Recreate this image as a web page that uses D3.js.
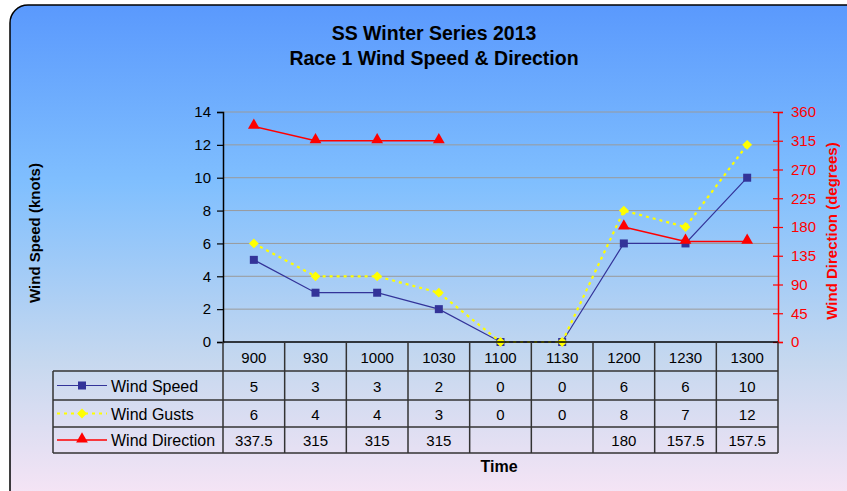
<!DOCTYPE html>
<html><head><meta charset="utf-8">
<script src="https://cdn.jsdelivr.net/npm/d3@7"></script>
<style>html,body{margin:0;padding:0;background:#fff;overflow:hidden}svg{display:block}text{font-family:"Liberation Sans",Arial,sans-serif}</style>
</head><body>
<svg id="c" width="847" height="491"></svg>
<script>
const categories = ["900","930","1000","1030","1100","1130","1200","1230","1300"];
const windSpeed = [5,3,3,2,0,0,6,6,10];
const windGusts = [6,4,4,3,0,0,8,7,12];
const windDirection = [337.5,315,315,315,null,null,180,157.5,157.5];
const leftTicks = [0,2,4,6,8,10,12,14];
const rightTicks = [0,45,90,135,180,225,270,315,360];
const titleLines = ["SS Winter Series 2013","Race 1 Wind Speed & Direction"];

const svg = d3.select("#c");
const defs = svg.append("defs");
const g = defs.append("linearGradient").attr("id","bg").attr("x1",0).attr("y1",0).attr("x2",0).attr("y2",1);
g.append("stop").attr("offset","0%").attr("stop-color","#5a99fd");
g.append("stop").attr("offset","35%").attr("stop-color","#80bffe");
g.append("stop").attr("offset","70%").attr("stop-color","#c6d8ef");
g.append("stop").attr("offset","100%").attr("stop-color","#fde6f6");

svg.append("rect").attr("x",10).attr("y",5).attr("width",880).attr("height",510).attr("rx",18).attr("ry",18)
  .attr("fill","url(#bg)").attr("stroke","#000").attr("stroke-width",1.5);

// titles
svg.selectAll("text.title").data(titleLines).join("text").attr("class","title")
  .attr("x",434).attr("y",(d,i)=>40+i*25).attr("text-anchor","middle")
  .attr("font-size",19.5).attr("font-weight","bold").attr("fill","#000").text(d=>d);

const L=223, R=778, T=112, B=342;
const x = d3.scaleBand().domain(categories).range([L,R]);
const y = d3.scaleLinear().domain([0,14]).range([B,T]);
const y2 = d3.scaleLinear().domain([0,360]).range([B,T]);
const cx = d=>x(d)+x.bandwidth()/2;

// gridlines
svg.append("g").selectAll("line").data(leftTicks.filter(t=>t>0)).join("line")
  .attr("x1",L).attr("x2",R).attr("y1",d=>y(d)).attr("y2",d=>y(d))
  .attr("stroke","#9a9a9a").attr("stroke-width",1);

// left axis
const la = svg.append("g").attr("transform",`translate(${L},0)`)
  .call(d3.axisLeft(y).tickValues(leftTicks).tickSize(6).tickPadding(6).tickFormat(d3.format("d")));
la.select(".domain").attr("stroke","#000").attr("stroke-width",1.5);
la.selectAll(".tick line").attr("stroke","#000").attr("stroke-width",1.2);
la.selectAll(".tick text").attr("font-size",15).attr("fill","#000").attr("font-family","Liberation Sans, Arial, sans-serif");

// right axis
const ra = svg.append("g").attr("transform",`translate(${R},0)`)
  .call(d3.axisRight(y2).tickValues(rightTicks).tickSize(5).tickPadding(8));
ra.select(".domain").attr("stroke","#ff0000").attr("stroke-width",1.5);
ra.selectAll(".tick line").attr("stroke","#ff0000").attr("x1",-5).attr("stroke-width",1.2);
ra.selectAll(".tick text").attr("font-size",15).attr("fill","#ff0000").attr("font-family","Liberation Sans, Arial, sans-serif");

// axis titles
svg.append("text").attr("transform","translate(40,233) rotate(-90)").attr("text-anchor","middle")
  .attr("font-size",15).attr("font-weight","bold").attr("fill","#000").text("Wind Speed (knots)");
svg.append("text").attr("transform","translate(837,231) rotate(-90)").attr("text-anchor","middle")
  .attr("font-size",15).attr("font-weight","bold").attr("fill","#ff0000").text("Wind Direction (degrees)");

// series
const lineL = d3.line().x((d,i)=>cx(categories[i])).y(d=>y(d));
const lineR = d3.line().defined(d=>d!==null).x((d,i)=>cx(categories[i])).y(d=>y2(d));

svg.append("path").datum(windSpeed).attr("d",lineL).attr("fill","none").attr("stroke","#333399").attr("stroke-width",1.2);
svg.append("g").selectAll("rect").data(windSpeed).join("rect")
  .attr("x",(d,i)=>cx(categories[i])-4).attr("y",d=>y(d)-4).attr("width",8).attr("height",8).attr("fill","#333399");

svg.append("path").datum(windGusts).attr("d",lineL).attr("fill","none").attr("stroke","#ffff00").attr("stroke-width",2.2).attr("stroke-dasharray","3,4");
svg.append("g").selectAll("path").data(windGusts).join("path")
  .attr("transform",(d,i)=>`translate(${cx(categories[i])},${y(d)}) rotate(45)`)
  .attr("d",d3.symbol().type(d3.symbolSquare).size(48)).attr("fill","#ffff00");

svg.append("path").datum(windDirection).attr("d",lineR).attr("fill","none").attr("stroke","#ff0000").attr("stroke-width",1.5);
svg.append("g").selectAll("path").data(windDirection.map((v,i)=>({v,c:categories[i]})).filter(d=>d.v!==null)).join("path")
  .attr("transform",d=>`translate(${cx(d.c)},${y2(d.v)-1})`)
  .attr("d",d3.symbol().type(d3.symbolTriangle).size(60)).attr("fill","#ff0000");

// x axis line
svg.append("line").attr("x1",L).attr("x2",R).attr("y1",B).attr("y2",B).attr("stroke","#000").attr("stroke-width",1.5);

// data table
const rowY = [342,371,400,427,453];
const TL = 53;
const tbl = svg.append("g");
const bc = "#333";
tbl.selectAll("text.h").data(categories).join("text").attr("class","h")
  .attr("x",d=>cx(d)).attr("y",(rowY[0]+rowY[1])/2+6).attr("text-anchor","middle").attr("font-size",15).attr("fill","#000").text(d=>d);
tbl.selectAll("line.v").data(categories).join("line").attr("class","v")
  .attr("x1",d=>x(d)).attr("x2",d=>x(d)).attr("y1",rowY[0]).attr("y2",rowY[4]).attr("stroke",bc).attr("stroke-width",1.5);
tbl.append("line").attr("x1",R).attr("x2",R).attr("y1",rowY[0]).attr("y2",rowY[4]).attr("stroke",bc).attr("stroke-width",1.5);
tbl.append("line").attr("x1",TL).attr("x2",TL).attr("y1",rowY[1]).attr("y2",rowY[4]).attr("stroke",bc).attr("stroke-width",1.5);
[1,2,3,4].forEach(k=>{
  tbl.append("line").attr("x1",TL).attr("x2",R).attr("y1",rowY[k]).attr("y2",rowY[k]).attr("stroke",bc).attr("stroke-width",1.5);
});
const rows = [
  {name:"Wind Speed", vals:windSpeed},
  {name:"Wind Gusts", vals:windGusts},
  {name:"Wind Direction", vals:windDirection}
];
rows.forEach((r,k)=>{
  const ym = (rowY[k+1]+rowY[k+2])/2;
  r.vals.forEach((v,i)=>{
    if(v===null) return;
    tbl.append("text").attr("x",cx(categories[i])).attr("y",ym+6).attr("text-anchor","middle").attr("font-size",15).attr("fill","#000").text(v);
  });
  tbl.append("text").attr("x",111).attr("y",ym+6).attr("font-size",16).attr("fill","#000").text(r.name);
});
const k1 = (rowY[1]+rowY[2])/2, k2=(rowY[2]+rowY[3])/2, k3=(rowY[3]+rowY[4])/2;
tbl.append("line").attr("x1",57).attr("x2",107).attr("y1",k1).attr("y2",k1).attr("stroke","#333399").attr("stroke-width",1.2);
tbl.append("rect").attr("x",82-4).attr("y",k1-4).attr("width",8).attr("height",8).attr("fill","#333399");
tbl.append("line").attr("x1",57).attr("x2",107).attr("y1",k2).attr("y2",k2).attr("stroke","#ffff00").attr("stroke-width",2.2).attr("stroke-dasharray","3,4");
tbl.append("path").attr("transform",`translate(82,${k2}) rotate(45)`).attr("d",d3.symbol().type(d3.symbolSquare).size(48)).attr("fill","#ffff00");
tbl.append("line").attr("x1",57).attr("x2",107).attr("y1",k3).attr("y2",k3).attr("stroke","#ff0000").attr("stroke-width",1.5);
tbl.append("path").attr("transform",`translate(82,${k3-1})`).attr("d",d3.symbol().type(d3.symbolTriangle).size(60)).attr("fill","#ff0000");

svg.append("text").attr("x",499).attr("y",472).attr("text-anchor","middle").attr("font-size",16).attr("font-weight","bold").attr("fill","#000").text("Time");
</script>
</body></html>
